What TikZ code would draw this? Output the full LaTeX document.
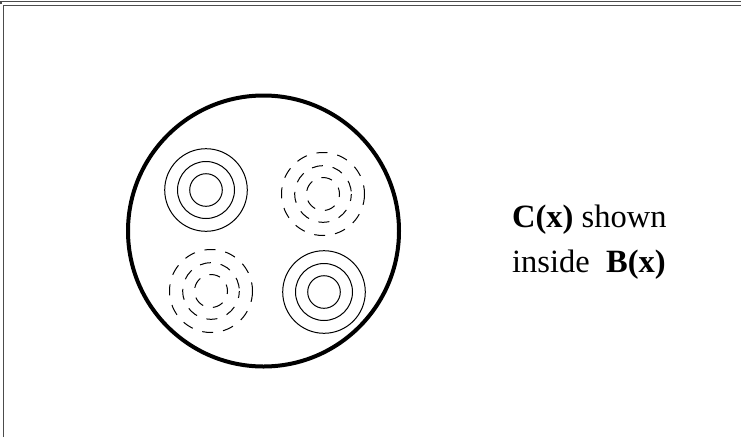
\documentclass[tikz,border=0pt]{standalone}
\usepackage{fontspec}
\setmainfont{Liberation Serif}
\begin{document}
\begin{tikzpicture}[x=1pt,y=-1pt,
  frame/.style={draw=black!70,line width=1.2pt},
  big/.style={draw=black,line width=4pt},
  ring/.style={draw=black,line width=1pt},
  dring/.style={draw=black,line width=1pt,dash pattern=on 11pt off 10pt},
  lbl/.style={font=\fontsize{32.5}{45}\selectfont,anchor=base west,inner sep=0pt}]
\useasboundingbox (0,0) rectangle (741,437);
\fill[white] (0,0) rectangle (741,437);
% frame
\draw[frame] (1,4) -- (1,1.3) -- (741,1.3);
\draw[frame] (3.8,437) -- (3.8,5.8) -- (741,5.8);
% big circle
\draw[big] (263.5,231) circle (135.5);
% top-left solid
\foreach \r in {41.3,28.5,16.3} \draw[ring] (206,190) circle (\r);
% bottom-right solid
\foreach \r in {41.3,28.5,16.3} \draw[ring] (324,292) circle (\r);
% top-right dashed
\foreach \r/\s in {41.5/0,28.3/4,16.5/8} \draw[dring,dash phase=\s pt] (323,194) circle (\r);
% bottom-left dashed
\foreach \r/\s in {41.5/0,28.3/4,16.5/8} \draw[dring,dash phase=\s pt] (211,291) circle (\r);
\node[lbl] (t1) at (512,227) {\textbf{C(x)} shown};
\node[lbl] (t2) at (512,272) {inside~ \textbf{B(x)}};
\end{tikzpicture}
\end{document}
